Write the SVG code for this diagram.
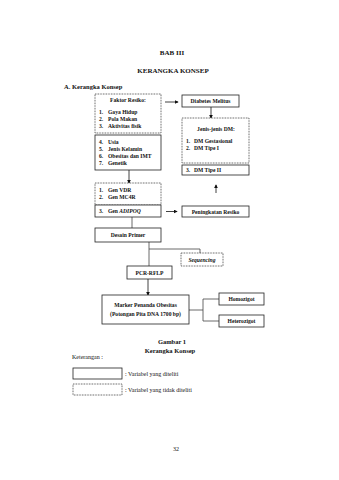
<svg xmlns="http://www.w3.org/2000/svg" width="339" height="480" viewBox="0 0 339 480">
<style>
text{font-family:"Liberation Serif","Times New Roman",serif;fill:#111;dominant-baseline:central}
.t{font-size:7px;font-weight:bold;text-anchor:middle}
.h{font-size:6.5px;font-weight:bold}
.b{font-size:5.6px;font-weight:bold}
.c{text-anchor:middle}
.r{font-size:6px}
.box{fill:#fff;stroke:#222;stroke-width:0.8}
.dot{fill:#fff;stroke:#222;stroke-width:0.8;stroke-dasharray:0.8 0.8}
.ln{fill:none;stroke:#444;stroke-width:0.8}
.ar{fill:none;stroke:#111;stroke-width:0.8;marker-end:url(#ah)}
</style>
<defs>
<marker id="ah" viewBox="0 0 6 6" refX="5" refY="3" markerWidth="4" markerHeight="4" orient="auto" markerUnits="userSpaceOnUse">
<path d="M0,0 L6,3 L0,6 z" fill="#111"/>
</marker>
</defs>
<rect width="339" height="480" fill="#fff"/>
<g id="title">
<text class="t" x="172" y="53">BAB III</text>
<text class="t" x="173" y="71">KERANGKA KONSEP</text>
<text class="h" x="64" y="86">A. Kerangka Konsep</text>
</g>
<g id="connectors">
<line class="ar" x1="165" y1="102" x2="178" y2="102"/>
<line class="ar" x1="211" y1="107" x2="211" y2="118"/>
<line class="ar" x1="129" y1="170" x2="129" y2="183"/>
<line class="ar" x1="216" y1="193" x2="216" y2="185"/>
<line class="ar" x1="166" y1="211.5" x2="177" y2="211.5"/>
<line class="ln" x1="132" y1="217" x2="132" y2="228"/>
<polyline class="ln" points="149,242 149,266"/>
<polyline class="ln" points="149,249 200,249 200,253"/>
<line class="ar" x1="148" y1="279" x2="148" y2="295"/>
<polyline class="ln" points="189,310 203,310"/>
<polyline class="ln" points="219,299 203,299 203,321 219,321"/>
</g>
<g id="faktor-resiko">
<rect class="dot" x="95" y="94" width="66" height="39"/>
<text class="b c" x="128" y="100">Faktor Resiko:</text>
<text class="b" x="99" y="112">1.</text><text class="b" x="108" y="112">Gaya Hidup</text>
<text class="b" x="99" y="119">2.</text><text class="b" x="108" y="119">Pola Makan</text>
<text class="b" x="99" y="126">3.</text><text class="b" x="108" y="126">Aktivitas fisik</text>
</g>
<g id="faktor-2">
<rect class="box" x="95" y="135" width="66" height="35"/>
<text class="b" x="99" y="142">4.</text><text class="b" x="108" y="142">Usia</text>
<text class="b" x="99" y="149">5.</text><text class="b" x="108" y="149">Jenis Kelamin</text>
<text class="b" x="99" y="156">6.</text><text class="b" x="108" y="156">Obesitas dan IMT</text>
<text class="b" x="99" y="163">7.</text><text class="b" x="108" y="163">Genetik</text>
</g>
<g id="gen">
<rect class="dot" x="95" y="183" width="66" height="22"/>
<text class="b" x="99" y="189.5">1.</text><text class="b" x="108" y="189.5">Gen VDR</text>
<text class="b" x="99" y="197">2.</text><text class="b" x="108" y="197">Gen MC4R</text>
</g>
<g id="gen-adipoq">
<rect class="box" x="95" y="205" width="66" height="12"/>
<text class="b" x="99" y="211">3.</text><text class="b" x="108" y="211">Gen <tspan font-style="italic">ADIPOQ</tspan></text>
</g>
<g id="diabetes">
<rect class="box" x="182" y="95" width="57" height="12"/>
<text class="b c" x="210.5" y="101">Diabetes Melitus</text>
</g>
<g id="jenis-dm">
<rect class="dot" x="182" y="118" width="67" height="45"/>
<text class="b c" x="216" y="129">Jenis-jenis DM:</text>
<text class="b" x="186" y="141">1.</text><text class="b" x="194" y="141">DM Gestasional</text>
<text class="b" x="186" y="148">2.</text><text class="b" x="194" y="148">DM Tipe I</text>
</g>
<g id="dm-tipe-2">
<rect class="box" x="182" y="165" width="67" height="10"/>
<text class="b" x="186" y="170">3.</text><text class="b" x="194" y="170">DM Tipe II</text>
</g>
<g id="peningkatan">
<rect class="box" x="182" y="206" width="67" height="11"/>
<text class="b c" x="215.5" y="211.5">Peningkatan Resiko</text>
</g>
<g id="desain-primer">
<rect class="box" x="95" y="228" width="66" height="14"/>
<text class="b c" x="128" y="235">Desain Primer</text>
</g>
<g id="sequencing">
<rect class="dot" x="181" y="253" width="42" height="13"/>
<text class="b c" x="202" y="259.5" font-style="italic">Sequencing</text>
</g>
<g id="pcr-rflp">
<rect class="box" x="127" y="266" width="45" height="13"/>
<text class="b c" x="149.5" y="272.5">PCR-RFLP</text>
</g>
<g id="marker">
<rect class="box" x="102" y="295" width="87" height="29"/>
<text class="b c" x="145.5" y="304.5">Marker Penanda Obesitas</text>
<text class="b c" x="145.5" y="313.5">(Potongan Pita DNA 1700 bp)</text>
</g>
<g id="homozigot">
<rect class="box" x="219" y="293" width="45" height="12"/>
<text class="b c" x="241.5" y="299">Homozigot</text>
</g>
<g id="heterozigot">
<rect class="box" x="219" y="315" width="45" height="12"/>
<text class="b c" x="241.5" y="321">Heterozigot</text>
</g>
<g id="caption">
<text class="h c" x="172" y="341">Gambar 1</text>
<text class="h c" x="170" y="350">Kerangka Konsep</text>
</g>
<g id="legend">
<text class="r" x="72" y="357" font-size="6.5">Keterangan :</text>
<rect class="box" x="73" y="368" width="49" height="11"/>
<text class="r" x="125" y="373.5">: Variabel yang diteliti</text>
<rect class="dot" x="73" y="384" width="49" height="11"/>
<text class="r" x="125" y="389.5">: Variabel yang tidak diteliti</text>
</g>
<g id="page">
<text class="r c" x="176" y="449">32</text>
</g>
</svg>
